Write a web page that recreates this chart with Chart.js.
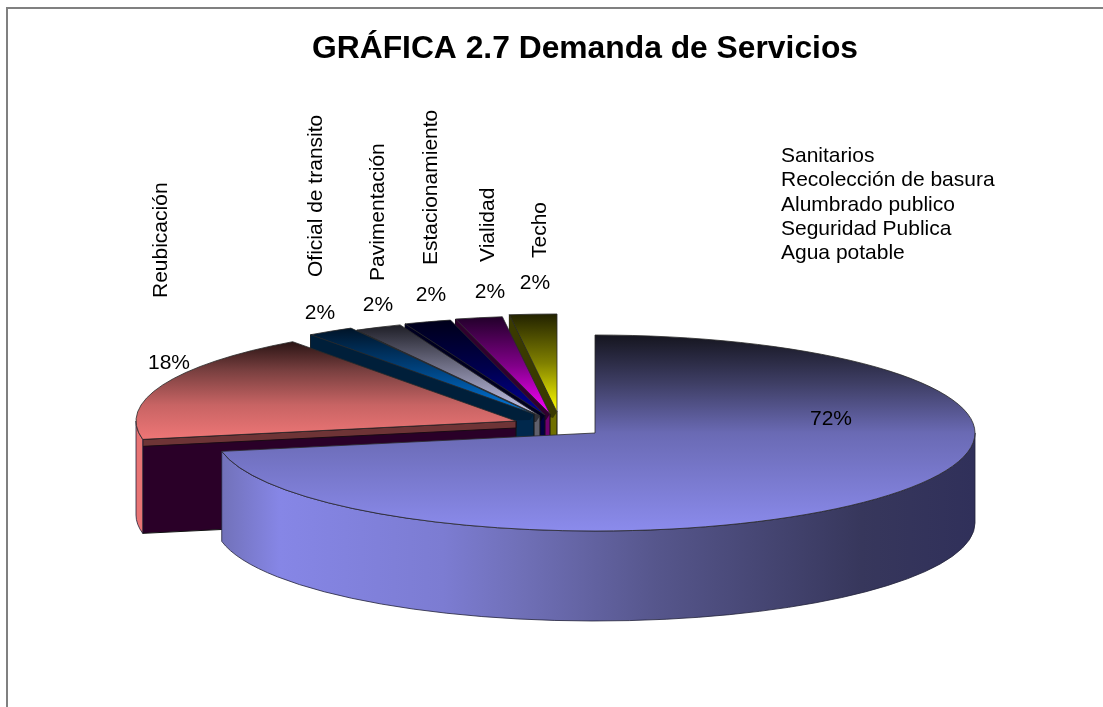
<!DOCTYPE html>
<html><head><meta charset="utf-8">
<style>html,body{margin:0;padding:0;background:#fff}canvas{display:block}</style>
<script src="https://cdn.jsdelivr.net/npm/chart.js@4/dist/chart.umd.min.js"></script>
</head><body>
<canvas id="c" width="1103" height="707"></canvas>
<script>
const chartTitle = "GRÁFICA 2.7 Demanda de Servicios";
const categories = ["Sanitarios","Reubicación","Oficial de transito","Pavimentación","Estacionamiento","Vialidad","Techo"];
const values = [72,18,2,2,2,2,2];
const legendNames = ["Sanitarios","Recolección de basura","Alumbrado publico","Seguridad Publica","Agua potable"];

// styling and layout, kept apart from the data
const RX = 380, RY = 98, FONT = '"Liberation Sans", Arial, sans-serif';
const explodeX = [0,-79,-61,-55,-50,-45,-38];
const explodeY = [0,-12,-19,-17,-18,-19,-21];
const depths = [90,94,90,90,90,90,90];
const faceStops = [
  [[0,"#15151f"],[.25,"#3f3f66"],[.5,"#6a6ab4"],[1,"#8b8bec"]],
  [[0,"#2a1414"],[.3,"#7a4040"],[.65,"#c86464"],[1,"#ee7676"]],
  [[0,"#001428"],[.45,"#003f78"],[1,"#0078e0"]],
  [[0,"#1e1e26"],[.5,"#77778f"],[1,"#ccccf4"]],
  [[0,"#00001a"],[.5,"#00004c"],[1,"#000098"]],
  [[0,"#22002a"],[.5,"#800088"],[1,"#ff00ff"]],
  [[0,"#222200"],[.5,"#808000"],[1,"#ffff00"]]
];
const cutColor = [null,"#2a0028","#00284c","#60606c","#000040","#700070","#707000"];
const cutDark  = [null,"#2a0028","#001f3a","#303038","#000020","#30002e","#3a3a00"];
const percentPos = [[831,419],[169,363],[320,313],[378,305],[431,295],[490,292],[535,283]];
const namePos = [null,[161,298],[316,277],[378,281],[431,265],[488,262],[540,258]];

function place(ctx, arc, dx, dy){
  const k = arc.outerRadius;
  ctx.translate(arc.x+dx, arc.y+dy);
  ctx.scale(RX/k, RY/k);
  ctx.translate(-arc.x,-arc.y);
}
function faceGradient(ctx, arc, stops){
  const a0 = arc.startAngle, a1 = arc.endAngle, R = arc.outerRadius;
  let lo = Math.min(0,Math.sin(a0),Math.sin(a1)), hi = Math.max(0,Math.sin(a0),Math.sin(a1));
  for (const q of [-Math.PI/2, Math.PI/2, 3*Math.PI/2]) if (q>=a0 && q<=a1) { lo=Math.min(lo,Math.sin(q)); hi=Math.max(hi,Math.sin(q)); }
  const g = ctx.createLinearGradient(0, arc.y+lo*R, 0, arc.y+hi*R);
  stops.forEach(s=>g.addColorStop(s[0],s[1]));
  return g;
}
function outerWall(ctx, arc, i){
  const a0 = Math.max(arc.startAngle,0), a1 = Math.min(arc.endAngle,Math.PI);
  if (a1<=a0) return;
  ctx.save();
  ctx.save(); place(ctx,arc,explodeX[i],explodeY[i]);
  ctx.beginPath(); ctx.arc(arc.x,arc.y,arc.outerRadius,a0,a1,false);
  ctx.restore();
  ctx.save(); place(ctx,arc,explodeX[i],explodeY[i]+depths[i]);
  ctx.arc(arc.x,arc.y,arc.outerRadius,a1,a0,true);
  ctx.restore();
  ctx.closePath();
  if (i===0){
    const g = ctx.createLinearGradient(arc.x-RX,0,arc.x+RX,0);
    [[0,"#6f6fb4"],[.085,"#8686e6"],[.3,"#7c7cd2"],[.4,"#7070b8"],[.58,"#56568c"],[.85,"#37375c"],[1,"#30305a"]].forEach(s=>g.addColorStop(s[0],s[1]));
    ctx.fillStyle = g;
  } else ctx.fillStyle = "#e87474";
  ctx.fill();
  ctx.strokeStyle = "#22223a"; ctx.lineWidth = .8; ctx.stroke();
  ctx.restore();
}
function cutWall(ctx, arc, i){
  if (!cutColor[i]) return;
  const c = Math.cos(arc.startAngle)*arc.outerRadius, s = Math.sin(arc.startAngle)*arc.outerRadius;
  const x0 = arc.x+explodeX[i], y0 = arc.y+explodeY[i];
  const x1 = x0+c*RX/arc.outerRadius, y1 = y0+s*RY/arc.outerRadius;
  ctx.save();
  ctx.beginPath(); ctx.moveTo(x0,y0); ctx.lineTo(x1,y1); ctx.lineTo(x1,y1+depths[i]); ctx.lineTo(x0,y0+depths[i]); ctx.closePath();
  ctx.fillStyle = cutColor[i]; ctx.fill();
  ctx.strokeStyle = "#111"; ctx.lineWidth = 1; ctx.stroke();
  if (i===1){
    ctx.beginPath(); ctx.moveTo(x0,y0); ctx.lineTo(x1,y1); ctx.lineTo(x1,y1+7); ctx.lineTo(x0,y0+7); ctx.closePath();
    ctx.fillStyle = "#6e3436"; ctx.fill(); ctx.strokeStyle = "#1a0a14"; ctx.stroke();
  } else {
    ctx.beginPath(); ctx.moveTo(x0,y0); ctx.lineTo(x1,y1); ctx.lineTo(x1,y1+depths[i]); ctx.lineTo(x0-4,y0+6); ctx.closePath();
    ctx.fillStyle = cutDark[i]; ctx.fill();
  }
  ctx.restore();
}
function face(ctx, arc, i){
  ctx.save();
  place(ctx,arc,explodeX[i],explodeY[i]);
  const saved = arc.options;
  arc.options = Object.assign({}, saved, {backgroundColor: faceGradient(ctx,arc,faceStops[i]), borderWidth:0});
  arc.draw(ctx);
  arc.options = saved;
  ctx.beginPath();
  ctx.moveTo(arc.x,arc.y);
  ctx.arc(arc.x,arc.y,arc.outerRadius,arc.startAngle,arc.endAngle,false);
  ctx.closePath();
  ctx.restore();
  ctx.strokeStyle = "#2a2a2a"; ctx.lineWidth = .8; ctx.stroke();
}
const pie3d = {
  id:"pie3d",
  beforeDraw(chart){
    const ctx = chart.ctx;
    ctx.save();
    ctx.fillStyle="#fff"; ctx.fillRect(0,0,chart.width,chart.height);
    ctx.fillStyle="#808080"; ctx.fillRect(6,7,chart.width-6,2); ctx.fillRect(6,7,2,chart.height-7);
    ctx.fillStyle="#000"; ctx.textBaseline="middle"; ctx.textAlign="center";
    ctx.font='bold 31.8px '+FONT; ctx.fillText(chartTitle,585,49);
    ctx.font='21px '+FONT; ctx.textAlign="left";
    legendNames.forEach((t,i)=>ctx.fillText(t,781,156+i*24.4));
    ctx.restore();
  },
  beforeDatasetDraw(chart,args){
    const ctx = chart.ctx, arcs = args.meta.data;
    for (let i=arcs.length-1;i>=0;i--){
      cutWall(ctx,arcs[i],i);
      outerWall(ctx,arcs[i],i);
      face(ctx,arcs[i],i);
    }
    return false;
  },
  afterDatasetsDraw(chart){
    const ctx = chart.ctx;
    ctx.save();
    ctx.fillStyle="#000"; ctx.font='21px '+FONT; ctx.textBaseline="middle"; ctx.textAlign="center";
    values.forEach((v,i)=>ctx.fillText(v+"%",percentPos[i][0],percentPos[i][1]));
    ctx.textAlign="left";
    categories.forEach((t,i)=>{
      if(!namePos[i])return;
      ctx.save(); ctx.translate(namePos[i][0],namePos[i][1]); ctx.rotate(-Math.PI/2); ctx.fillText(t,0,0); ctx.restore();
    });
    ctx.restore();
  }
};
new Chart(document.getElementById("c"),{
  type:"pie",
  data:{labels:categories,datasets:[{data:values,borderWidth:0,clip:false,backgroundColor:faceStops.map(s=>s[s.length-1][1])}]},
  options:{
    responsive:false,animation:false,
    layout:{padding:{left:87,top:159,right:0,bottom:0}},
    plugins:{legend:{display:false},tooltip:{enabled:false},title:{display:false}}
  },
  plugins:[pie3d]
});
</script>
</body></html>
